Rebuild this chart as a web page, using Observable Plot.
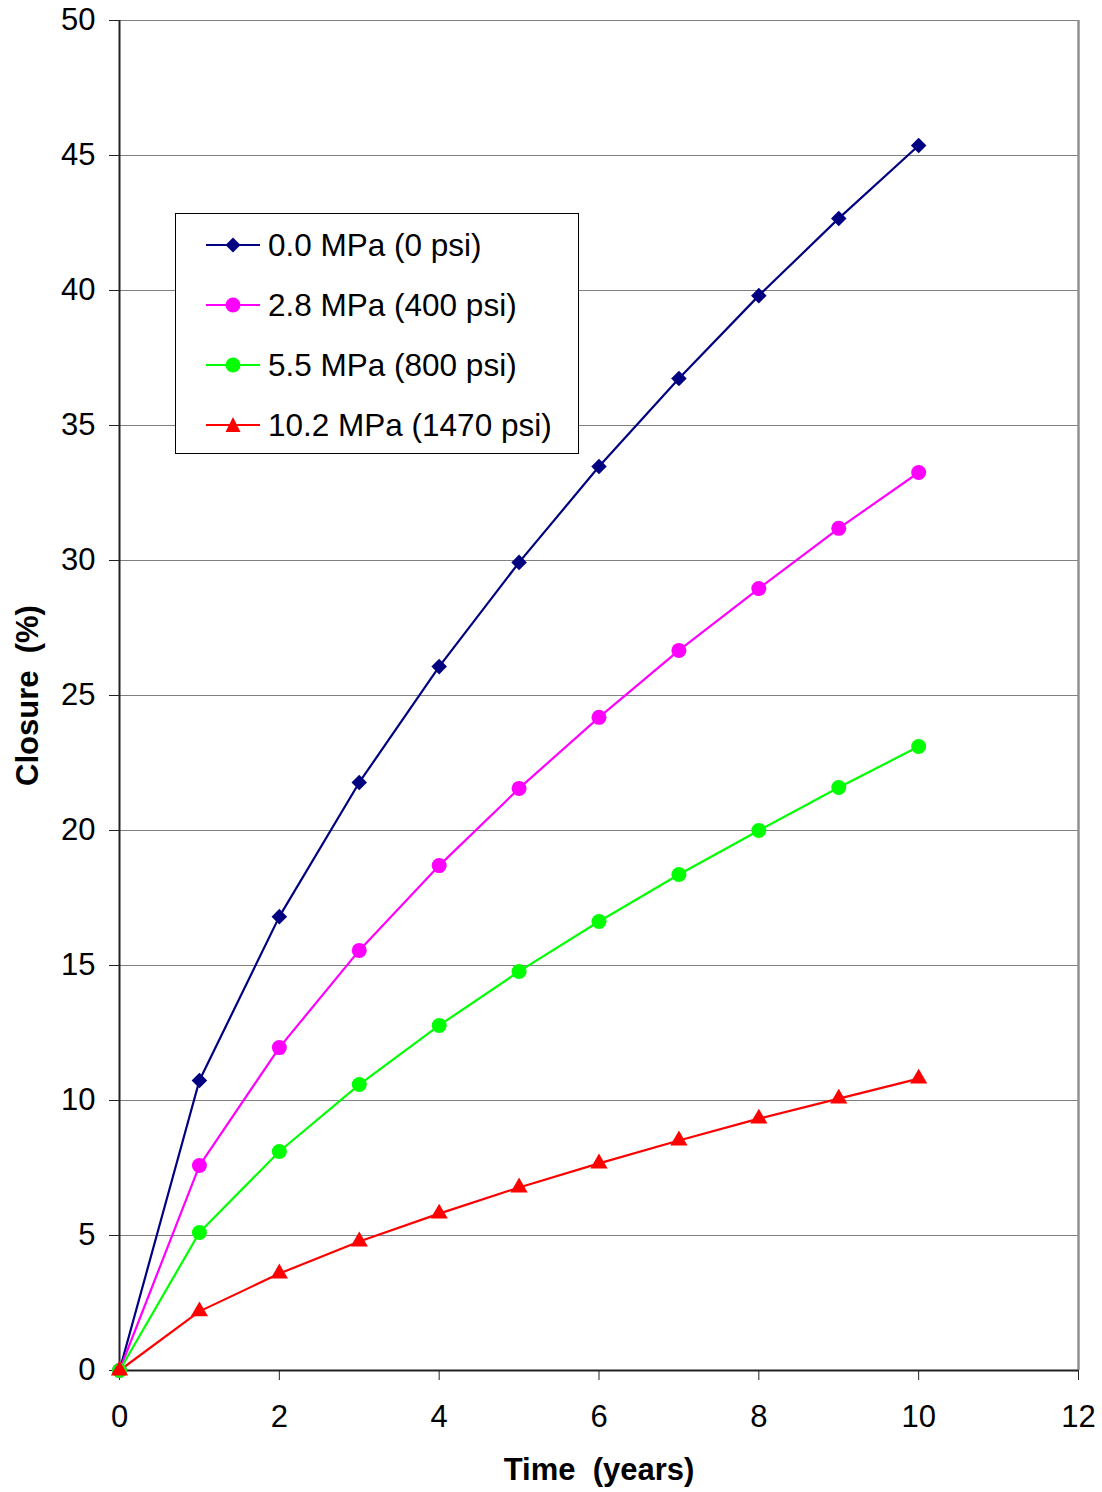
<!DOCTYPE html>
<html>
<head>
<meta charset="utf-8">
<script src="https://cdn.jsdelivr.net/npm/d3@7"></script>
<script src="https://cdn.jsdelivr.net/npm/@observablehq/plot@0.6"></script>
<style>
  html, body { margin: 0; padding: 0; background: #fff; }
  #wrap { position: relative; width: 1102px; height: 1492px; font-family: "Liberation Sans", Arial, sans-serif; }
  #legend { position: absolute; left: 175px; top: 213px; width: 402px; height: 239px; border: 1px solid #000; background: #fff; box-sizing: content-box; }
  .row { position: absolute; left: 30px; height: 40px; display: flex; align-items: center; font-size: 31.5px; color: #000; white-space: nowrap; }
  .row svg { margin-right: 6px; }
</style>
</head>
<body>
<div id="wrap"></div>
<script>
// Data
const years = [0, 1, 2, 3, 4, 5, 6, 7, 8, 9, 10];
const series = ["0.0 MPa (0 psi)", "2.8 MPa (400 psi)", "5.5 MPa (800 psi)", "10.2 MPa (1470 psi)"];
const closure0 = [0, 10.74, 16.81, 21.78, 26.07, 29.93, 33.48, 36.74, 39.81, 42.67, 45.37];
const closure28 = [0, 7.59, 11.96, 15.56, 18.70, 21.56, 24.19, 26.67, 28.96, 31.19, 33.26];
const closure55 = [0, 5.11, 8.11, 10.59, 12.78, 14.78, 16.63, 18.37, 20.00, 21.59, 23.11];
const closure102 = [0, 2.19, 3.59, 4.78, 5.81, 6.78, 7.67, 8.52, 9.33, 10.07, 10.81];
const xTicks = [0, 2, 4, 6, 8, 10, 12];
const yTicks = [0, 5, 10, 15, 20, 25, 30, 35, 40, 45, 50];

const colors = ["#000080", "#FF00FF", "#00FF00", "#FF0000"];
const symbols = ["diamond2", "circle", "circle", "triangle"];
const radii = [7, 7.5, 7.5, 6.4];
const values = [closure0, closure28, closure55, closure102];

const data = [];
series.forEach((s, i) => years.forEach((t, j) => data.push({series: s, idx: i, t, v: values[i][j]})));

const marks = [
  Plot.gridY(yTicks, {stroke: "#808080", strokeOpacity: 1, strokeWidth: 1.2}),
  Plot.ruleX([12], {stroke: "#909090", strokeWidth: 2.5}),
  Plot.ruleX([0], {stroke: "#222", strokeWidth: 2}),
  Plot.ruleY([0], {stroke: "#222", strokeWidth: 2}),
  Plot.axisY({ticks: yTicks, tickSize: 10, tickPadding: 14, fontSize: 31, label: null, stroke: "#222"}),
  Plot.axisX({ticks: xTicks, tickSize: 10, tickPadding: 24, fontSize: 31, label: null, stroke: "#222"}),
  Plot.text(["Closure\u00a0 (%)"], {frameAnchor: "left", textAnchor: "middle", dx: -91, rotate: -90, fontSize: 31, fontWeight: "bold"}),
  Plot.text(["Time\u00a0 (years)"], {frameAnchor: "bottom", textAnchor: "middle", lineAnchor: "middle", dy: 100, fontSize: 31, fontWeight: "bold"})
];
series.forEach((s, i) => {
  const d = data.filter(r => r.idx === i);
  marks.push(Plot.line(d, {x: "t", y: "v", stroke: colors[i], strokeWidth: 2.2}));
});
series.forEach((s, i) => {
  const d = data.filter(r => r.idx === i);
  marks.push(Plot.dot(d, {x: "t", y: "v", fill: colors[i], stroke: "none", symbol: () => symbols[i], r: radii[i]}));
});

const chart = Plot.plot({
  width: 1102,
  height: 1492,
  marginLeft: 119,
  marginRight: 24,
  marginTop: 20,
  marginBottom: 122,
  style: {fontFamily: "'Liberation Sans', Arial, sans-serif", fontSize: "31px", color: "#000", background: "#fff"},
  x: {domain: [0, 12]},
  y: {domain: [0, 50]},
  marks
});
const wrap = document.getElementById("wrap");
wrap.appendChild(chart);

// Legend overlay
const legend = document.createElement("div");
legend.id = "legend";
const rowTops = [11, 71, 131, 191];
const shapeSvg = (i) => {
  const c = colors[i];
  let shape;
  if (symbols[i] === "diamond2") shape = `<polygon points="27,3.5 34.5,11 27,18.5 19.5,11" fill="${c}"/>`;
  else if (symbols[i] === "circle") shape = `<circle cx="27" cy="11" r="7.5" fill="${c}"/>`;
  else shape = `<polygon points="27,3 34.5,18 19.5,18" fill="${c}"/>`;
  return `<svg width="56" height="22"><line x1="0" y1="11" x2="54" y2="11" stroke="${c}" stroke-width="2.2"/>${shape}</svg>`;
};
series.forEach((s, i) => {
  const row = document.createElement("div");
  row.className = "row";
  row.style.top = rowTops[i] + "px";
  row.innerHTML = shapeSvg(i) + `<span>${s}</span>`;
  legend.appendChild(row);
});
wrap.appendChild(legend);
</script>
</body>
</html>
